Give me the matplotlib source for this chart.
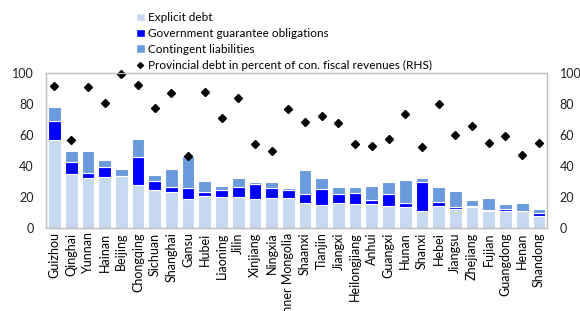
import numpy as np
import matplotlib
matplotlib.use('Agg')
import matplotlib.pyplot as plt
from matplotlib.lines import Line2D
from matplotlib.patches import Patch

plt.rcParams['font.family'] = ['Lato', 'DejaVu Sans']

provinces = ['Guizhou', 'Qinghai', 'Yunnan', 'Hainan', 'Beijing', 'Chongqing', 'Sichuan',
             'Shanghai', 'Gansu', 'Hubei', 'Liaoning', 'Jilin', 'Xinjiang', 'Ningxia',
             'Inner Mongolia', 'Shaanxi', 'Tianjin', 'Jiangxi', 'Heilongjiang', 'Anhui',
             'Guangxi', 'Hunan', 'Shanxi', 'Hebei', 'Jiangsu', 'Zhejiang', 'Fujian',
             'Guangdong', 'Henan', 'Shandong']

# stacked bar segment tops (cumulative), converted to segment sizes below
explicit_top = [57.2, 34.8, 32.3, 33.2, 33.6, 28.0, 24.5, 23.5, 19.0, 20.6, 20.4, 20.0, 19.0, 19.3,
                19.8, 16.1, 15.1, 16.6, 15.9, 15.5, 14.2, 13.8, 11.4, 14.2, 12.5, 14.0, 11.0,
                11.0, 11.2, 8.0]
guarantee_top = [69.3, 42.6, 35.5, 39.6, 34.0, 45.8, 30.6, 26.3, 25.8, 23.5, 24.5, 26.5, 28.6, 25.8,
                 24.5, 22.2, 25.4, 21.9, 23.0, 18.5, 21.9, 16.4, 29.9, 16.8, 13.5, 14.3, 11.6,
                 12.5, 11.4, 10.1]
contingent_top = [78.3, 50.1, 50.1, 44.3, 38.1, 57.7, 34.6, 38.5, 46.7, 30.3, 27.1, 32.1, 29.9, 29.9,
                  26.0, 37.4, 32.7, 26.7, 26.7, 27.1, 29.5, 30.8, 32.5, 26.3, 24.3, 17.9, 19.6,
                  15.7, 16.6, 12.1]
debt_pct_revenue = [91.6, 57.2, 90.8, 80.6, 99.6, 92.5, 77.4, 87.3, 46.5, 87.5, 71.2, 83.9, 54.0, 50.1,
                    76.8, 68.2, 72.3, 67.7, 54.0, 52.7, 57.4, 73.8, 52.1, 80.2, 59.8, 65.6, 55.1,
                    59.2, 47.5, 54.8]

explicit = np.array(explicit_top)
guarantee = np.array(guarantee_top) - explicit
contingent = np.array(contingent_top) - np.array(guarantee_top)

c_light = '#c6d9f1'
c_blue = '#0000ff'
c_cont = '#6a9bdc'

fig = plt.figure(figsize=(5.8, 3.11), dpi=100)
ax = fig.add_axes([0.0795, 0.266, 0.864, 0.499])

x = np.arange(len(provinces))
w = 0.76
ax.bar(x, explicit, w, color=c_light, edgecolor='white', linewidth=0.8)
ax.bar(x, guarantee, w, bottom=explicit, color=c_blue, edgecolor='white', linewidth=0.8)
ax.bar(x, contingent, w, bottom=explicit + guarantee, color=c_cont, edgecolor='white', linewidth=0.8)

ax2 = ax.twinx()
ax2.plot(x, debt_pct_revenue, linestyle='none', marker='D', markersize=4.0, color='black', clip_on=False)

for a in (ax, ax2):
    a.set_ylim(0, 100)
    a.set_yticks([0, 20, 40, 60, 80, 100])
    a.tick_params(axis='y', length=0, pad=9, labelsize=9, colors='#222222')
    for s in a.spines.values():
        s.set_color('#bfbfbf')
        s.set_linewidth(0.9)
ax.set_xlim(-0.5, len(provinces) - 0.5)
ax.set_xticks(x)
ax.set_xticklabels(provinces, rotation=90, fontsize=9)
ax.tick_params(axis='x', length=0, pad=3)

handles = [Patch(facecolor=c_light, edgecolor='white'),
           Patch(facecolor=c_blue, edgecolor='white'),
           Patch(facecolor=c_cont, edgecolor='white'),
           Line2D([], [], linestyle='none', marker='D', markersize=3, color='black')]
labels = ['Explicit debt', 'Government guarantee obligations', 'Contingent liabilities',
          'Provincial debt in percent of con. fiscal revenues (RHS)']
fig.legend(handles, labels, loc='upper left', bbox_to_anchor=(0.235, 0.962), frameon=False,
           fontsize=8.5, handlelength=0.7, handleheight=0.7, handletextpad=0.3,
           labelspacing=0.42, borderpad=0, borderaxespad=0)

fig.savefig('out.png', dpi=100)
